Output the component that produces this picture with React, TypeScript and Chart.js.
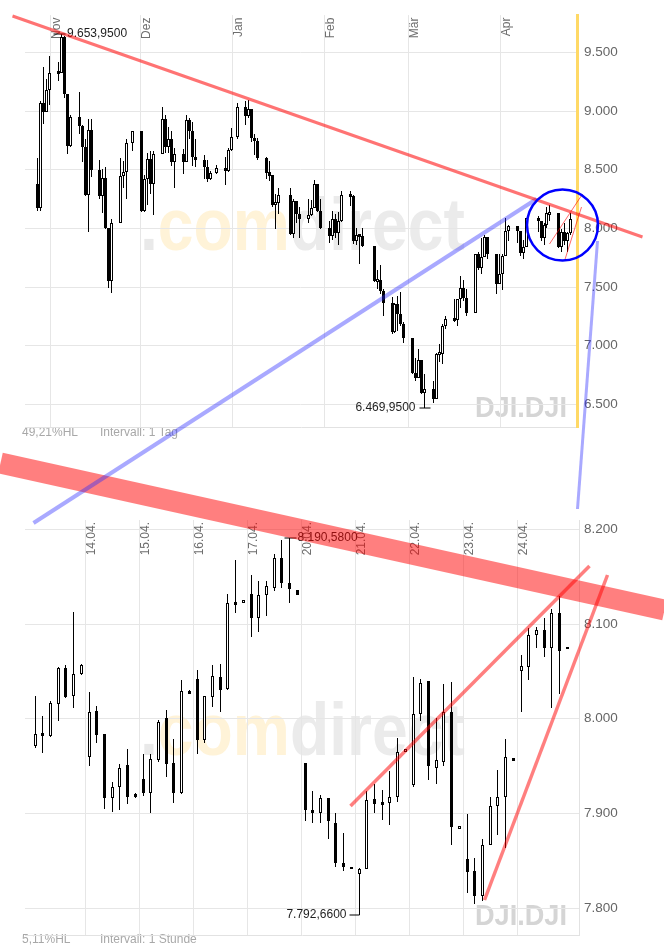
import React, { useEffect, useRef } from 'react';
import Chart from 'chart.js/auto';

const FONT = '"Liberation Sans", Arial, Helvetica, sans-serif';
const W = 664;
const H = 952;

// ---------------- Daily panel (DJI, 1 Tag) ----------------
const DAILY_DATES = [
  '2008-10-27', '2008-10-28', '2008-10-29', '2008-10-30', '2008-10-31',
  '2008-11-03', '2008-11-04', '2008-11-05', '2008-11-06', '2008-11-07',
  '2008-11-10', '2008-11-11', '2008-11-12', '2008-11-13', '2008-11-14',
  '2008-11-17', '2008-11-18', '2008-11-19', '2008-11-20', '2008-11-21',
  '2008-11-24', '2008-11-25', '2008-11-26', '2008-11-28',
  '2008-12-01', '2008-12-02', '2008-12-03', '2008-12-04', '2008-12-05',
  '2008-12-08', '2008-12-09', '2008-12-10', '2008-12-11', '2008-12-12',
  '2008-12-15', '2008-12-16', '2008-12-17', '2008-12-18', '2008-12-19',
  '2008-12-22', '2008-12-23', '2008-12-24', '2008-12-26',
  '2008-12-29', '2008-12-30', '2008-12-31',
  '2009-01-02',
  '2009-01-05', '2009-01-06', '2009-01-07', '2009-01-08', '2009-01-09',
  '2009-01-12', '2009-01-13', '2009-01-14', '2009-01-15', '2009-01-16',
  '2009-01-20', '2009-01-21', '2009-01-22', '2009-01-23',
  '2009-01-26', '2009-01-27', '2009-01-28', '2009-01-29', '2009-01-30',
  '2009-02-02', '2009-02-03', '2009-02-04', '2009-02-05', '2009-02-06',
  '2009-02-09', '2009-02-10', '2009-02-11', '2009-02-12', '2009-02-13',
  '2009-02-17', '2009-02-18', '2009-02-19', '2009-02-20',
  '2009-02-23', '2009-02-24', '2009-02-25', '2009-02-26', '2009-02-27',
  '2009-03-02', '2009-03-03', '2009-03-04', '2009-03-05', '2009-03-06',
  '2009-03-09', '2009-03-10', '2009-03-11', '2009-03-12', '2009-03-13',
  '2009-03-16', '2009-03-17', '2009-03-18', '2009-03-19', '2009-03-20',
  '2009-03-23', '2009-03-24', '2009-03-25', '2009-03-26', '2009-03-27',
  '2009-03-30', '2009-03-31',
  '2009-04-01', '2009-04-02', '2009-04-03',
  '2009-04-06', '2009-04-07', '2009-04-08', '2009-04-09',
  '2009-04-13', '2009-04-14', '2009-04-15', '2009-04-16', '2009-04-17',
  '2009-04-20', '2009-04-21', '2009-04-22', '2009-04-23', '2009-04-24',
];

const DAILY_OPEN = [
  8378, 8175, 9065, 8991, 9181,
  9325, 9320, 9625, 9139, 8696, 8944, 8871, 8694, 8283, 8835, 8497, 8274, 8425, 7997, 7552, 8046, 8443, 8479, 8727,
  8829, 8149, 8419, 8592, 8376, 8635, 8934, 8691, 8761, 8565, 8630, 8565, 8924, 8824, 8605, 8579, 8520, 8419, 8468, 8516, 8484, 8668,
  8776, 9035, 8953, 9015, 8770, 8742, 8599, 8474, 8449, 8200, 8212, 8281, 7949, 8228, 8123, 8078, 8116, 8175, 8375, 8149,
  8001, 7937, 8078, 7957, 8063, 8281, 8271, 7889, 7940, 7933, 7850, 7553, 7556, 7466, 7366, 7115, 7351, 7271, 7182,
  7063, 6763, 6726, 6876, 6594, 6627, 6547, 6926, 6930, 7170, 7224, 7217, 7396, 7487, 7401, 7278, 7776, 7660, 7750, 7925, 7776, 7522,
  7609, 7762, 7978, 8018, 7976, 7790, 7837, 8083, 8058, 7920, 8030, 8125, 8131, 7842, 7970, 7887, 7957,
];
const DAILY_HIGH = [
  8598, 9082, 9373, 9270, 9470,
  9420, 9653.95, 9640, 9140, 8965, 9160, 8880, 8760, 8930, 8930, 8580, 8500, 8520, 8000, 8080, 8600, 8570, 8760, 8830,
  8832, 8450, 8640, 8660, 8660, 9030, 8960, 8860, 8830, 8682, 8676, 8965, 8940, 8905, 8760, 8620, 8580, 8490, 8540, 8606, 8680, 8850,
  9065, 9080, 9088, 9015, 8800, 8770, 8610, 8570, 8450, 8290, 8340, 8340, 8250, 8230, 8180, 8250, 8240, 8410, 8375, 8250,
  8060, 8150, 8120, 8140, 8320, 8320, 8280, 8000, 7950, 8000, 7850, 7640, 7690, 7480, 7410, 7360, 7420, 7460, 7200,
  7063, 6890, 6971, 6880, 6760, 6700, 6940, 7010, 7180, 7250, 7400, 7400, 7590, 7560, 7480, 7780, 7800, 7920, 7940, 7925, 7776, 7780,
  7780, 8086, 8030, 8020, 7976, 7900, 8090, 8100, 8060, 8040, 8180, 8198, 8131, 7990, 8040, 7970, 8128,
];
const DAILY_LOW = [
  8143, 8150, 8890, 8990, 9050,
  9252, 9320, 9110, 8630, 8690, 8800, 8560, 8270, 7965, 8440, 8250, 8130, 7990, 7490, 7449, 8040, 8340, 8250, 8660,
  8140, 8140, 8200, 8290, 8110, 8630, 8640, 8640, 8530, 8340, 8465, 8560, 8760, 8527, 8520, 8420, 8390, 8410, 8460, 8366, 8480, 8660,
  8760, 8880, 8940, 8730, 8620, 8577, 8420, 8400, 8180, 7995, 8120, 7940, 7920, 8040, 7915, 8040, 8100, 8170, 8140, 7990,
  7870, 7900, 7915, 7860, 8050, 8190, 7862, 7860, 7695, 7840, 7540, 7480, 7440, 7249, 7100, 7110, 7120, 7170, 7020,
  6760, 6700, 6720, 6590, 6469.95, 6510, 6547, 6860, 6840, 7140, 7200, 7170, 7320, 7380, 7250, 7278, 7640, 7610, 7750, 7740, 7440, 7520,
  7470, 7760, 7890, 7870, 7760, 7740, 7837, 7970, 7890, 7860, 8000, 8060, 7830, 7792.66, 7860, 7800, 7940,
];
const DAILY_CLOSE = [
  8175, 9065, 8991, 9181, 9325,
  9320, 9625, 9139, 8696, 8944, 8871, 8694, 8283, 8835, 8497, 8274, 8425, 7997, 7552, 8046, 8443, 8479, 8727, 8829,
  8149, 8419, 8592, 8376, 8635, 8934, 8691, 8761, 8565, 8630, 8565, 8924, 8824, 8605, 8579, 8520, 8419, 8468, 8516, 8484, 8668, 8776,
  9035, 8953, 9015, 8770, 8742, 8599, 8474, 8449, 8200, 8212, 8281, 7949, 8228, 8123, 8078, 8116, 8175, 8375, 8149, 8001,
  7937, 8078, 7957, 8063, 8281, 8271, 7889, 7940, 7933, 7850, 7553, 7556, 7466, 7366, 7115, 7351, 7271, 7182, 7063,
  6763, 6726, 6876, 6594, 6627, 6547, 6926, 6930, 7170, 7224, 7217, 7396, 7487, 7401, 7278, 7776, 7660, 7750, 7925, 7776, 7522, 7609,
  7762, 7978, 8018, 7976, 7790, 7837, 8083, 8058, 7920, 8030, 8125, 8131, 7842, 7970, 7887, 7957, 8076,
];

const MONTH_LABELS = ['Nov', 'Dez', 'Jan', 'Feb', 'Mär', 'Apr'];
const MONTH_STARTS = ['2008-11-01', '2008-12-01', '2009-01-01', '2009-02-01', '2009-03-01', '2009-04-01'];
const DAILY_Y_TICKS = [6500, 7000, 7500, 8000, 8500, 9000, 9500];
const DAILY_Y_LABELS = ['6.500', '7.000', '7.500', '8.000', '8.500', '9.000', '9.500'];
const DAILY_X_RANGE = [-8.49, 176.74];
const DAILY_Y_RANGE = [6305.4, 9815.5];
const DAILY_FOOTER = ['49,21%HL', 'Intervall: 1 Tag'];
const DAILY_HIGH_LABEL = '9.653,9500';
const DAILY_LOW_LABEL = '6.469,9500';
const DAILY_HIGH_MARK = [{ x: 1.0, y: 9653.95 }, { x: 4.9, y: 9653.95 }];
const DAILY_LOW_MARK = [{ x: 123.83, y: 6469.95 }, { x: 127.42, y: 6469.95 }];

// drawn trend lines (data coordinates: day since 1 Nov 2008, index points)
const DAILY_RED_TREND = [{ x: -12.85, y: 9808.7 }, { x: 198.56, y: 7924.3 }];
const DAILY_BLUE_TREND = [{ x: -5.7, y: 5485 }, { x: 162.99, y: 8250.7 }];
const DAILY_BLUE_STEEP = [{ x: 183.46, y: 7887 }, { x: 176.75, y: 5603 }];
const DAILY_CIRCLE = [{ x: 171.71, y: 8024.9 }];
const DAILY_THIN_A = [{ x: 167.35, y: 7862 }, { x: 178.42, y: 8293 }];
const DAILY_THIN_B = [{ x: 172.38, y: 7718 }, { x: 178.08, y: 8183 }];

// ---------------- Hourly panel (DJI, 1 Stunde) ----------------
const HOURLY_OPEN = [
  7971, 7985, 7981, 8015, 8053, 8024, 8047,
  7959, 8008, 7984, 7916, 7928, 7951, 7920,
  7936, 7921, 7956, 8001, 7953, 7921, 8028,
  8042, 7977, 8023, 8044, 8031, 8123, 8122,
  8132, 8106, 8131, 8138, 8170, 8143, 8136,
  7953, 7903, 7900, 7916, 7889, 7847, 7843,
  7836, 7841, 7915, 7911, 7911, 7917, 7965,
  7930, 8005, 8040, 7948, 7954, 8007, 7883,
  7851, 7839, 7812, 7866, 7907, 7917, 7958,
  8050, 8054, 8088, 8094, 8074, 8111, 8073,
];
const HOURLY_HIGH = [
  8024, 8003, 8018, 8054, 8057, 8113, 8058,
  8028, 8013, 7984, 7933, 7952, 7968, 7921,
  7962, 7962, 7998, 8009, 7978, 8041, 8030,
  8051, 8024, 8057, 8058, 8132, 8168, 8125,
  8152, 8145, 8145, 8174, 8189, 8190.58, 8136,
  7953, 7923, 7919, 7916, 7900, 7879, 7843,
  7842, 7923, 7931, 7924, 7944, 7979, 7968,
  8044, 8042, 8040, 8000, 8036, 8039, 7886,
  7899, 7852, 7873, 7917, 7946, 7978, 7958,
  8067, 8096, 8097, 8106, 8116, 8129, 8076,
];
const HOURLY_LOW = [
  7969, 7964, 7980, 7997, 8022, 8011, 8046,
  7950, 7974, 7904, 7901, 7903, 7910, 7916,
  7918, 7900, 7954, 7938, 7911, 7920, 8026,
  7962, 7974, 8012, 8007, 8030, 8112, 8122,
  8086, 8091, 8108, 8135, 8138, 8122, 8131,
  7892, 7890, 7890, 7873, 7843, 7839, 7841,
  7792.66, 7841, 7900, 7893, 7887, 7912, 7965,
  7928, 7997, 7935, 7931, 7950, 7866, 7883,
  7816, 7804, 7807, 7866, 7877, 7863, 7955,
  8007, 8041, 8075, 8065, 8011, 8026, 8073,
];
const HOURLY_CLOSE = [
  7984, 7981, 8016, 8053, 8023, 8047, 8057,
  8007, 7982, 7916, 7928, 7948, 7917, 7917,
  7921, 7957, 7996, 7952, 7921, 8029, 8027,
  7977, 8024, 8045, 8030, 8122, 8120, 8125,
  8106, 8131, 8140, 8170, 8143, 8137, 8131,
  7903, 7900, 7916, 7892, 7847, 7843, 7841,
  7841, 7914, 7910, 7909, 7917, 7965, 7968,
  8005, 8037, 7950, 7956, 8007, 7885, 7886,
  7838, 7812, 7866, 7907, 7917, 7959, 7955,
  8055, 8088, 8094, 8074, 8111, 8071, 8076,
];
const HOURS_PER_DAY = 7;
const HOURLY_DAY_LABELS = ['14.04.', '15.04.', '16.04.', '17.04.', '20.04.', '21.04.', '22.04.', '23.04.', '24.04.'];
const HOURLY_Y_TICKS = [7800, 7900, 8000, 8100, 8200];
const HOURLY_Y_LABELS = ['7.800', '7.900', '8.000', '8.100', '8.200'];
const HOURLY_X_RANGE = [-0.739, 71.08];
const HOURLY_Y_RANGE = [7771.1, 8209.8];
const HOURLY_FOOTER = ['5,11%HL', 'Intervall: 1 Stunde'];
const HOURLY_HIGH_LABEL = '8.190,5800';
const HOURLY_LOW_LABEL = '7.792,6600';
const HOURLY_HIGH_MARK = [{ x: 32.84, y: 8190.58 }, { x: 34.39, y: 8190.58 }];
const HOURLY_LOW_MARK = [{ x: 41.22, y: 7792.66 }, { x: 42.6, y: 7792.66 }];
const HOURLY_BAND = [{ x: -4.0, y: 8269.7 }, { x: 82.1, y: 8114.7 }];
const HOURLY_CHANNEL_UP = [{ x: 41.43, y: 7907.5 }, { x: 72.41, y: 8161.5 }];
const HOURLY_CHANNEL_STEEP = [{ x: 58.72, y: 7808.2 }, { x: 74.71, y: 8151.7 }];

// ---------------- helpers ----------------
const dayIndex = (s: string) => {
  const [y, m, d] = s.split('-').map(Number);
  return Math.round((Date.UTC(y, m - 1, d) - Date.UTC(2008, 10, 1)) / 86400000);
};

function candleDatasets(xs: number[], o: number[], h: number[], l: number[], c: number[], minSpan: number) {
  const bodies = xs.map((x, i) => {
    let a = o[i];
    let b = c[i];
    if (Math.abs(a - b) < minSpan) {
      const m = (a + b) / 2;
      a = m - minSpan / 2;
      b = m + minSpan / 2;
    }
    return { x, y: [Math.min(a, b), Math.max(a, b)] };
  });
  const fills = xs.map((_, i) => (c[i] >= o[i] ? '#ffffff' : '#000000'));
  const wicks = xs.map((x, i) => ({ x, y: [l[i], h[i]] }));
  return [
    {
      type: 'bar', data: bodies, backgroundColor: fills, borderColor: '#000000', borderWidth: 1,
      borderSkipped: false, barThickness: 3, grouped: false, inflateAmount: 0, order: 5,
    },
    {
      type: 'bar', data: wicks, backgroundColor: '#000000', borderWidth: 0,
      barThickness: 1, grouped: false, inflateAmount: 0, order: 6,
    },
  ];
}

function lineDs(points: any[], color: string, width: number, order = 1) {
  return {
    type: 'line', data: points, borderColor: color, borderWidth: width, pointRadius: 0,
    pointHoverRadius: 0, fill: false, tension: 0, clip: false, order, borderCapStyle: 'butt',
  };
}

function drawWatermark(ctx: CanvasRenderingContext2D, left: number, baseline: number, targetW: number, size: number) {
  ctx.save();
  ctx.font = `bold ${size}px ${FONT}`;
  const parts: [string, string][] = [['.', '#e9e9e9'], ['com', '#fff3d8'], ['direct', '#ebebeb']];
  const total = parts.reduce((s, [t]) => s + ctx.measureText(t).width, 0);
  ctx.translate(left, baseline);
  ctx.scale(targetW / total, 1);
  ctx.textAlign = 'left';
  ctx.textBaseline = 'alphabetic';
  let x = 0;
  for (const [t, col] of parts) {
    ctx.fillStyle = col;
    ctx.fillText(t, x, 0);
    x += ctx.measureText(t).width;
  }
  ctx.restore();
}

function drawBrand(ctx: CanvasRenderingContext2D, left: number, baseline: number, targetW: number, size: number) {
  ctx.save();
  ctx.font = `bold ${size}px ${FONT}`;
  const t = 'DJI.DJI';
  const w = ctx.measureText(t).width;
  ctx.translate(left, baseline);
  ctx.scale(targetW / w, 1);
  ctx.fillStyle = '#d5d5d5';
  ctx.textAlign = 'left';
  ctx.textBaseline = 'alphabetic';
  ctx.fillText(t, 0, 0);
  ctx.restore();
}

function drawFooter(ctx: CanvasRenderingContext2D, y: number, texts: string[]) {
  ctx.save();
  ctx.font = `12px ${FONT}`;
  ctx.fillStyle = '#a8a8a8';
  ctx.textBaseline = 'middle';
  ctx.textAlign = 'left';
  ctx.fillText(texts[0], 22, y);
  ctx.fillText(texts[1], 100, y);
  ctx.restore();
}

function drawRotated(ctx: CanvasRenderingContext2D, labels: string[], xs: number[], topY: number) {
  ctx.save();
  ctx.font = `12px ${FONT}`;
  ctx.fillStyle = '#6e6e6e';
  labels.forEach((lab, i) => {
    ctx.save();
    ctx.translate(xs[i] + 9.5, topY);
    ctx.rotate(-Math.PI / 2);
    ctx.textAlign = 'right';
    ctx.textBaseline = 'alphabetic';
    ctx.fillText(lab, 0, 0);
    ctx.restore();
  });
  ctx.restore();
}

function drawMarkLabel(ctx: CanvasRenderingContext2D, text: string, x: number, y: number, align: CanvasTextAlign) {
  ctx.save();
  ctx.font = `12px ${FONT}`;
  ctx.fillStyle = '#1e1e1e';
  ctx.textAlign = align;
  ctx.textBaseline = 'middle';
  ctx.fillText(text, x, y);
  ctx.restore();
}

function yScale(range: number[], ticks: number[], labels: string[], width: number, borderColor: string, borderWidth: number, padding: number) {
  return {
    type: 'linear', position: 'right', min: range[0], max: range[1], bounds: 'data', beginAtZero: false,
    alignToPixels: true,
    grid: { color: '#e6e6e6', lineWidth: 1, drawTicks: false },
    border: { display: true, color: borderColor, width: borderWidth },
    ticks: {
      padding, color: '#666666', autoSkip: false, font: { family: FONT, size: 13.5 },
      callback: (v: number) => labels[ticks.indexOf(v)] ?? '',
    },
    afterBuildTicks: (s: any) => { s.ticks = ticks.map((v) => ({ value: v })); },
    afterFit: (s: any) => { s.width = width; },
  };
}

function xScale(range: number[], gridValues: number[]) {
  return {
    type: 'linear', position: 'bottom', min: range[0], max: range[1], bounds: 'data', offset: false,
    alignToPixels: true,
    grid: { offset: false, color: '#e6e6e6', lineWidth: 1, drawTicks: false },
    border: { display: true, color: '#e2e2e2', width: 1 },
    ticks: { display: false },
    afterBuildTicks: (s: any) => { s.ticks = gridValues.map((v) => ({ value: v })); },
    afterFit: (s: any) => { s.height = 0; },
  };
}

// shifts the dataset layer by half a pixel so 1px / 3px candle parts land on whole pixels
const crispPlugin = {
  id: 'crisp',
  beforeDatasetsDraw(chart: any) {
    chart.ctx.save();
    chart.ctx.translate(0.5, 0);
  },
  afterDatasetsDraw(chart: any) {
    chart.ctx.restore();
  },
};

export default function App() {
  const topRef = useRef<HTMLCanvasElement>(null);
  const botRef = useRef<HTMLCanvasElement>(null);

  useEffect(() => {
    if (!topRef.current || !botRef.current) return;

    // ---------- daily chart ----------
    const dailyX = DAILY_DATES.map((d) => dayIndex(d) + 0.5);
    const monthX = MONTH_STARTS.map(dayIndex);

    const dailyDecor = {
      id: 'dailyDecor',
      beforeDraw(chart: any) {
        const { ctx, chartArea } = chart;
        drawWatermark(ctx, 140, chartArea.top + 235, 325, 75);
        drawBrand(ctx, 475, chartArea.bottom - 10, 92, 30);
        drawFooter(ctx, chartArea.bottom + 5.5, DAILY_FOOTER);
      },
      beforeDatasetsDraw(chart: any) {
        const { ctx, chartArea, scales } = chart;
        drawRotated(ctx, MONTH_LABELS, monthX.map((v) => scales.x.getPixelForValue(v)), chartArea.top + 2.5);
        drawMarkLabel(ctx, DAILY_HIGH_LABEL, scales.x.getPixelForValue(DAILY_HIGH_MARK[1].x) + 2,
          scales.y.getPixelForValue(DAILY_HIGH_MARK[1].y), 'left');
        drawMarkLabel(ctx, DAILY_LOW_LABEL, scales.x.getPixelForValue(DAILY_LOW_MARK[0].x) - 3.5,
          scales.y.getPixelForValue(DAILY_LOW_MARK[0].y), 'right');
      },
    };

    const top = new Chart(topRef.current, {
      type: 'bar',
      data: {
        datasets: [
          {
            type: 'line', data: DAILY_CIRCLE, showLine: false, pointRadius: 35.5, pointHoverRadius: 35.5,
            pointBorderColor: '#0000ff', pointBorderWidth: 2.5, pointBackgroundColor: 'rgba(0,0,0,0)',
            clip: false, order: 0,
          },
          lineDs(DAILY_RED_TREND, 'rgba(255,0,0,0.55)', 3),
          lineDs(DAILY_BLUE_TREND, 'rgba(40,40,255,0.4)', 4),
          lineDs(DAILY_BLUE_STEEP, 'rgba(40,40,255,0.4)', 3),
          lineDs(DAILY_THIN_A, 'rgba(255,0,0,0.6)', 1),
          lineDs(DAILY_THIN_B, 'rgba(255,0,0,0.6)', 1),
          lineDs(DAILY_HIGH_MARK, '#000000', 1, 2),
          lineDs(DAILY_LOW_MARK, '#000000', 1, 2),
          ...candleDatasets(dailyX, DAILY_OPEN, DAILY_HIGH, DAILY_LOW, DAILY_CLOSE, 26),
        ],
      } as any,
      options: {
        responsive: false,
        animation: false,
        events: [],
        layout: { autoPadding: false, padding: { left: 25, top: 12, right: 0, bottom: H - 427 } },
        plugins: { legend: { display: false }, tooltip: { enabled: false } },
        scales: {
          x: xScale(DAILY_X_RANGE, monthX),
          y: yScale(DAILY_Y_RANGE, DAILY_Y_TICKS, DAILY_Y_LABELS, 87, '#ffd966', 3, 7),
        },
      } as any,
      plugins: [dailyDecor, crispPlugin],
    });

    // ---------- hourly chart ----------
    const hourlyX = HOURLY_OPEN.map((_, i) => i + 0.5);
    const dayGrid = HOURLY_DAY_LABELS.map((_, i) => (i + 1) * HOURS_PER_DAY);

    const hourlyDecor = {
      id: 'hourlyDecor',
      beforeDraw(chart: any) {
        const { ctx, chartArea } = chart;
        drawWatermark(ctx, 140, chartArea.top + 235, 325, 75);
        drawBrand(ctx, 475, chartArea.bottom - 10, 92, 30);
        drawFooter(ctx, chartArea.bottom + 5, HOURLY_FOOTER);
      },
      beforeDatasetsDraw(chart: any) {
        const { ctx, chartArea, scales } = chart;
        drawRotated(ctx, HOURLY_DAY_LABELS, dayGrid.map((v) => scales.x.getPixelForValue(v)), chartArea.top + 2);
        drawMarkLabel(ctx, HOURLY_HIGH_LABEL, scales.x.getPixelForValue(HOURLY_HIGH_MARK[1].x) + 1.5,
          scales.y.getPixelForValue(HOURLY_HIGH_MARK[1].y), 'left');
        drawMarkLabel(ctx, HOURLY_LOW_LABEL, scales.x.getPixelForValue(HOURLY_LOW_MARK[0].x) - 2.5,
          scales.y.getPixelForValue(HOURLY_LOW_MARK[0].y), 'right');
      },
    };

    const bot = new Chart(botRef.current, {
      type: 'bar',
      data: {
        datasets: [
          lineDs(HOURLY_BAND, 'rgba(255,0,0,0.5)', 21),
          lineDs(HOURLY_CHANNEL_UP, 'rgba(255,0,0,0.5)', 3.5),
          lineDs(HOURLY_CHANNEL_STEEP, 'rgba(255,0,0,0.5)', 3.5),
          lineDs(HOURLY_HIGH_MARK, '#000000', 1, 2),
          lineDs(HOURLY_LOW_MARK, '#000000', 1, 2),
          ...candleDatasets(hourlyX, HOURLY_OPEN, HOURLY_HIGH, HOURLY_LOW, HOURLY_CLOSE, 3),
        ],
      } as any,
      options: {
        responsive: false,
        animation: false,
        events: [],
        layout: { autoPadding: false, padding: { left: 25, top: 520, right: 0, bottom: H - 935 } },
        plugins: { legend: { display: false }, tooltip: { enabled: false } },
        scales: {
          x: xScale(HOURLY_X_RANGE, dayGrid),
          y: yScale(HOURLY_Y_RANGE, HOURLY_Y_TICKS, HOURLY_Y_LABELS, 85, '#e2e2e2', 1, 5),
        },
      } as any,
      plugins: [hourlyDecor, crispPlugin],
    });

    return () => {
      top.destroy();
      bot.destroy();
    };
  }, []);

  const style: React.CSSProperties = { position: 'absolute', left: 0, top: 0, width: W, height: H };
  return (
    <div>
      <canvas ref={botRef} width={W} height={H} style={style} />
      <canvas ref={topRef} width={W} height={H} style={style} />
    </div>
  );
}
